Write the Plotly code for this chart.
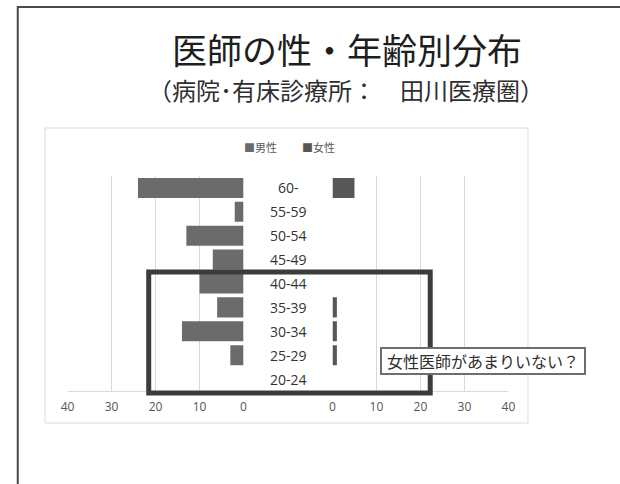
import plotly.graph_objects as go

# ---- data ----
age_groups = ["60-", "55-59", "50-54", "45-49", "40-44", "35-39", "30-34", "25-29", "20-24"]
male = [24, 2, 13, 7, 10, 6, 14, 3, 0]
female = [5, 0, 0, 0, 0, 1, 1, 1, 0]
series_names = ["男性", "女性"]
tick_vals = [0, 10, 20, 30, 40]
title_text = "医師の性・年齢別分布"
subtitle_text = "（病院･有床診療所：　田川医療圏）"
note_text = "女性医師があまりいない？"

W, H = 620, 484
FONT = "Noto Sans CJK JP"
male_color = "#6b6b6b"
female_color = "#575757"
grid_color = "#d9d9d9"

def px(x):
    return x / W

def py(y):
    return 1 - y / H

fig = go.Figure()
fig.add_trace(go.Bar(x=male, y=age_groups, orientation="h", name=series_names[0],
                     marker=dict(color=male_color, line=dict(width=0)),
                     xaxis="x", yaxis="y"))
fig.add_trace(go.Bar(x=female, y=age_groups, orientation="h", name=series_names[1],
                     marker=dict(color=female_color, line=dict(width=0)),
                     xaxis="x2", yaxis="y"))

axis_common = dict(
    tickmode="array", tickvals=tick_vals, ticktext=[str(v) for v in tick_vals],
    showgrid=True, gridcolor=grid_color, gridwidth=1, zeroline=False,
    showline=True, linecolor=grid_color, linewidth=1,
    ticks="outside", ticklen=5, tickcolor="rgba(0,0,0,0)",
    tickfont=dict(family="Open Sans", size=12, color="#555555"),
    fixedrange=True,
)

fig.update_layout(
    width=W, height=H,
    margin=dict(l=0, r=0, t=0, b=0),
    paper_bgcolor="white", plot_bgcolor="rgba(0,0,0,0)",
    showlegend=False,
    bargap=0.16,
    xaxis=dict(domain=[px(62), px(242)], range=[40, 0], anchor="y", **axis_common),
    xaxis2=dict(domain=[px(333), px(513)], range=[0, 40], anchor="y", **axis_common),
    yaxis=dict(domain=[py(391), py(176)], type="category",
               categoryorder="array", categoryarray=age_groups[::-1],
               showgrid=False, showticklabels=False, zeroline=False, showline=False,
               ticks=""),
)

shapes = [
    # outer slide frame
    dict(type="rect", xref="paper", yref="paper", x0=px(11), x1=px(640), y0=py(7), y1=py(500),
         line=dict(color="#4a4a4a", width=2), fillcolor="rgba(0,0,0,0)", layer="below"),
    # chart area border
    dict(type="rect", xref="paper", yref="paper", x0=px(39), x1=px(533), y0=py(128), y1=py(423),
         line=dict(color="#dcdcdc", width=1), fillcolor="white", layer="below"),
    # highlight rectangle
    dict(type="rect", xref="paper", yref="paper", x0=px(145), x1=px(433), y0=py(272), y1=py(393),
         line=dict(color="#3c3c3c", width=5), fillcolor="rgba(0,0,0,0)", layer="above"),
]
fig.update_layout(shapes=shapes)

annotations = [
    dict(text=title_text, xref="paper", yref="paper", x=px(348), y=py(48),
         showarrow=False, font=dict(family=FONT, size=35, color="#1e1e1e"),
         xanchor="center", yanchor="middle"),
    dict(text=subtitle_text, xref="paper", yref="paper", x=px(347), y=py(89),
         showarrow=False, font=dict(family=FONT, size=24, color="#2e2e2e"),
         xanchor="center", yanchor="middle"),
    dict(text=f'<span style="color:{male_color}">■</span>{series_names[0]}',
         xref="paper", yref="paper", x=px(259), y=py(147), showarrow=False,
         font=dict(family=FONT, size=11, color="#595959"), xanchor="center", yanchor="middle"),
    dict(text=f'<span style="color:{female_color}">■</span>{series_names[1]}',
         xref="paper", yref="paper", x=px(319), y=py(147), showarrow=False,
         font=dict(family=FONT, size=11, color="#595959"), xanchor="center", yanchor="middle"),
    dict(text=note_text, xref="paper", yref="paper", x=px(487), y=py(361),
         showarrow=False, font=dict(family=FONT, size=16, color="#2e2e2e"),
         xanchor="center", yanchor="middle",
         bgcolor="white", bordercolor="#6e6e6e", borderwidth=2, borderpad=2,
         width=198, height=20),
]
for label in age_groups:
    annotations.append(dict(text=label, xref="paper", yref="y", x=px(288), y=label,
                            showarrow=False, font=dict(family="Open Sans", size=14, color="#333333"),
                            xanchor="center", yanchor="middle"))
fig.update_layout(annotations=annotations)

fig.write_html("out.html")
